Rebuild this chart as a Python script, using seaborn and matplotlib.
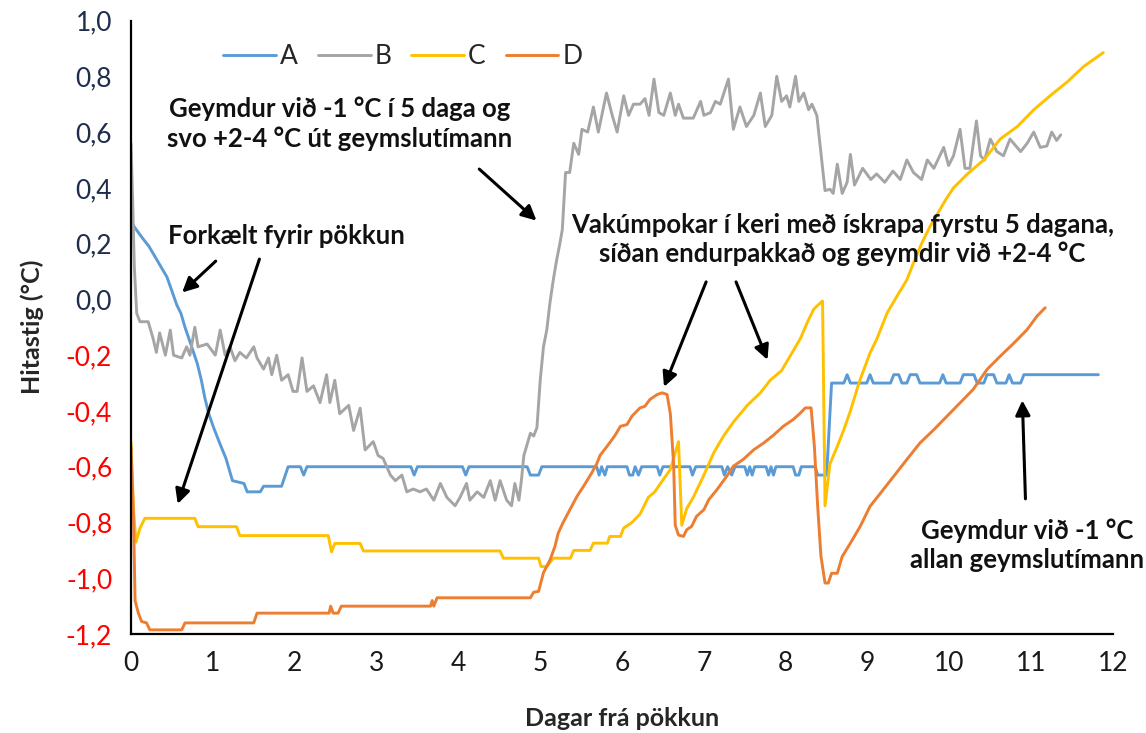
import pandas as pd
import matplotlib.pyplot as plt
import seaborn as sns

# Hitastig í vakúmpokum eftir pökkun (lesið af mynd)
A_day = [0.00, 0.04, 0.14, 0.22, 0.30, 0.36, 0.44, 0.50, 0.56, 0.61, 0.66, 0.73, 0.81, 0.86, 0.90,
         0.95, 1.01, 1.09, 1.16, 1.24, 1.38, 1.42, 1.58, 1.62, 1.84, 1.92,
         2.07, 2.11, 2.15, 3.42, 3.46, 3.50, 4.05, 4.09, 4.13, 4.84, 4.88, 4.98, 5.02,
         5.69, 5.72, 5.75, 5.79, 5.82, 6.06, 6.09, 6.13, 6.16, 6.20, 6.24, 6.43, 6.46, 6.50,
         6.83, 6.86, 6.90, 7.22, 7.25, 7.29, 7.34, 7.38, 7.50, 7.53, 7.56, 7.59, 7.62,
         7.76, 7.79, 7.82, 7.85, 7.88, 8.09, 8.12, 8.16, 8.19, 8.36, 8.39, 8.50, 8.56,
         8.71, 8.75, 8.79, 8.99, 9.03, 9.07, 9.28, 9.32, 9.38, 9.42, 9.48, 9.52, 9.60, 9.64,
         9.88, 9.92, 9.96, 10.13, 10.17, 10.30, 10.34, 10.42, 10.46, 10.54, 10.58,
         10.69, 10.73, 10.77, 10.87, 10.91, 11.82]
A_temp = [0.28, 0.26, 0.22, 0.19, 0.15, 0.12, 0.08, 0.03, -0.02, -0.05, -0.10, -0.16, -0.23, -0.29, -0.35,
          -0.41, -0.46, -0.52, -0.57, -0.65, -0.66, -0.69, -0.69, -0.67, -0.67, -0.60,
          -0.60, -0.63, -0.60, -0.60, -0.63, -0.60, -0.60, -0.63, -0.60, -0.60, -0.63, -0.63, -0.60,
          -0.60, -0.63, -0.60, -0.63, -0.60, -0.60, -0.63, -0.63, -0.60, -0.63, -0.60, -0.60, -0.63, -0.60,
          -0.60, -0.63, -0.60, -0.60, -0.63, -0.60, -0.63, -0.60, -0.60, -0.63, -0.60, -0.63, -0.60,
          -0.60, -0.63, -0.60, -0.63, -0.60, -0.60, -0.63, -0.63, -0.60, -0.60, -0.63, -0.63, -0.30,
          -0.30, -0.27, -0.30, -0.30, -0.27, -0.30, -0.30, -0.27, -0.27, -0.30, -0.30, -0.27, -0.27, -0.30,
          -0.30, -0.27, -0.30, -0.30, -0.27, -0.27, -0.30, -0.30, -0.27, -0.27, -0.30,
          -0.30, -0.27, -0.30, -0.30, -0.27, -0.27]

B_day = [0.00, 0.02, 0.04, 0.07, 0.11, 0.21, 0.27, 0.31, 0.35, 0.42, 0.48, 0.52, 0.62, 0.68, 0.72,
         0.78, 0.82, 0.93, 1.03, 1.09, 1.15, 1.21, 1.27, 1.33, 1.41, 1.50, 1.54, 1.62, 1.68, 1.72,
         1.78, 1.84, 1.92, 1.98, 2.03, 2.09, 2.15, 2.23, 2.31, 2.39, 2.43, 2.49, 2.55, 2.66, 2.72,
         2.80, 2.86, 2.96, 3.02, 3.08, 3.17, 3.23, 3.31, 3.37, 3.45, 3.53, 3.61, 3.70, 3.78, 3.86,
         3.96, 4.02, 4.10, 4.14, 4.23, 4.31, 4.39, 4.45, 4.51, 4.59, 4.65, 4.69, 4.74, 4.77, 4.80,
         4.88, 4.92, 4.96, 5.00, 5.04, 5.08, 5.12, 5.16, 5.20, 5.24, 5.27, 5.31, 5.36, 5.41, 5.47,
         5.51, 5.58, 5.65, 5.71, 5.81, 5.88, 5.94, 6.02, 6.08, 6.14, 6.22, 6.28, 6.33, 6.39, 6.45,
         6.51, 6.59, 6.65, 6.69, 6.75, 6.87, 6.96, 7.00, 7.08, 7.14, 7.20, 7.30, 7.36, 7.44, 7.52,
         7.61, 7.69, 7.75, 7.83, 7.89, 7.95, 8.01, 8.05, 8.12, 8.16, 8.22, 8.28, 8.32, 8.38, 8.48,
         8.54, 8.58, 8.63, 8.69, 8.75, 8.79, 8.84, 8.94, 9.04, 9.11, 9.21, 9.31, 9.40, 9.48, 9.56,
         9.66, 9.73, 9.81, 9.93, 9.99, 10.05, 10.13, 10.19, 10.25, 10.33, 10.38, 10.43, 10.50, 10.58,
         10.66, 10.74, 10.87, 10.95, 11.03, 11.11, 11.19, 11.25, 11.31, 11.36]
B_temp = [0.56, 0.36, 0.12, -0.05, -0.08, -0.08, -0.14, -0.19, -0.12, -0.20, -0.11, -0.20, -0.21, -0.17, -0.20,
          -0.10, -0.17, -0.16, -0.20, -0.11, -0.20, -0.17, -0.22, -0.19, -0.21, -0.17, -0.21, -0.25, -0.21, -0.27,
          -0.20, -0.29, -0.27, -0.33, -0.33, -0.21, -0.33, -0.31, -0.37, -0.27, -0.37, -0.29, -0.41, -0.38, -0.47,
          -0.39, -0.54, -0.51, -0.56, -0.57, -0.63, -0.65, -0.63, -0.69, -0.68, -0.69, -0.68, -0.72, -0.66, -0.71,
          -0.74, -0.71, -0.66, -0.72, -0.69, -0.71, -0.65, -0.72, -0.65, -0.72, -0.74, -0.66, -0.72, -0.65, -0.56,
          -0.48, -0.49, -0.46, -0.29, -0.17, -0.11, -0.01, 0.07, 0.14, 0.20, 0.25, 0.455, 0.455, 0.56, 0.52,
          0.61, 0.60, 0.69, 0.60, 0.74, 0.66, 0.60, 0.73, 0.66, 0.70, 0.70, 0.72, 0.66, 0.79, 0.67,
          0.66, 0.74, 0.66, 0.70, 0.65, 0.65, 0.71, 0.66, 0.67, 0.71, 0.70, 0.79, 0.61, 0.69, 0.62,
          0.66, 0.74, 0.62, 0.66, 0.80, 0.71, 0.73, 0.69, 0.80, 0.71, 0.74, 0.68, 0.70, 0.66, 0.39,
          0.395, 0.38, 0.485, 0.38, 0.42, 0.52, 0.41, 0.47, 0.43, 0.45, 0.42, 0.46, 0.43, 0.50, 0.455,
          0.43, 0.50, 0.47, 0.545, 0.48, 0.515, 0.61, 0.47, 0.47, 0.64, 0.515, 0.50, 0.575, 0.53,
          0.515, 0.575, 0.53, 0.56, 0.60, 0.545, 0.55, 0.60, 0.57, 0.59]

C_day = [0.00, 0.03, 0.06, 0.11, 0.17, 0.78, 0.82, 1.29, 1.33, 2.41, 2.45, 2.49, 2.80, 2.84, 4.51,
         4.55, 4.98, 5.01, 5.08, 5.16, 5.37, 5.41, 5.61, 5.65, 5.82, 5.85, 5.98, 6.02, 6.12, 6.22,
         6.32, 6.40, 6.47, 6.59, 6.65, 6.69, 6.73, 6.79, 6.87, 7.00, 7.12, 7.24, 7.36, 7.53, 7.69,
         7.81, 7.95, 8.06, 8.18, 8.26, 8.34, 8.38, 8.45, 8.48, 8.54, 8.63, 8.71, 8.79, 8.87, 8.91,
         9.03, 9.11, 9.24, 9.36, 9.48, 9.56, 9.66, 9.76, 9.86, 9.96, 10.05, 10.22, 10.42, 10.62,
         10.83, 11.03, 11.23, 11.44, 11.64, 11.88]
C_temp = [-0.51, -0.75, -0.87, -0.82, -0.785, -0.785, -0.815, -0.815, -0.847, -0.847, -0.905, -0.875, -0.875, -0.902, -0.902,
          -0.928, -0.928, -0.958, -0.958, -0.928, -0.928, -0.90, -0.90, -0.874, -0.874, -0.85, -0.85, -0.82, -0.80, -0.77,
          -0.71, -0.69, -0.66, -0.61, -0.55, -0.51, -0.81, -0.75, -0.71, -0.63, -0.55, -0.49, -0.44, -0.38, -0.335,
          -0.29, -0.255, -0.20, -0.14, -0.085, -0.036, -0.024, -0.006, -0.74, -0.59, -0.527, -0.467, -0.40, -0.323, -0.287,
          -0.192, -0.144, -0.048, 0.012, 0.07, 0.13, 0.20, 0.26, 0.31, 0.36, 0.40, 0.45, 0.50, 0.575,
          0.62, 0.68, 0.73, 0.78, 0.835, 0.885]

D_day = [0.00, 0.03, 0.05, 0.09, 0.13, 0.19, 0.23, 0.62, 0.66, 1.50, 1.54, 2.42, 2.44, 2.47, 2.53,
         2.57, 3.66, 3.68, 3.70, 3.74, 4.88, 4.92, 4.98, 5.04, 5.12, 5.18, 5.22, 5.28, 5.37, 5.45,
         5.53, 5.63, 5.69, 5.73, 5.86, 5.92, 5.98, 6.06, 6.12, 6.22, 6.28, 6.34, 6.43, 6.49, 6.55,
         6.59, 6.63, 6.65, 6.69, 6.75, 6.79, 6.85, 6.91, 7.00, 7.06, 7.16, 7.28, 7.36, 7.48, 7.61,
         7.73, 7.85, 7.97, 8.09, 8.17, 8.24, 8.31, 8.35, 8.39, 8.43, 8.48, 8.52, 8.56, 8.63, 8.69,
         8.79, 8.91, 9.03, 9.16, 9.32, 9.48, 9.64, 9.81, 9.97, 10.13, 10.29, 10.46, 10.62, 10.79,
         10.95, 11.07, 11.17]
D_temp = [-0.53, -0.77, -1.08, -1.125, -1.155, -1.16, -1.185, -1.185, -1.16, -1.16, -1.125, -1.125, -1.10, -1.125, -1.125,
          -1.10, -1.10, -1.08, -1.10, -1.07, -1.07, -1.05, -1.047, -0.98, -0.934, -0.886, -0.838, -0.80, -0.75, -0.706,
          -0.67, -0.622, -0.59, -0.56, -0.51, -0.485, -0.455, -0.449, -0.419, -0.389, -0.383, -0.359, -0.341, -0.335, -0.341,
          -0.41, -0.59, -0.81, -0.845, -0.85, -0.826, -0.814, -0.778, -0.754, -0.718, -0.682, -0.634, -0.598, -0.574, -0.539,
          -0.515, -0.487, -0.455, -0.431, -0.41, -0.389, -0.389, -0.527, -0.74, -0.92, -1.017, -1.017, -0.982, -0.982, -0.922,
          -0.874, -0.814, -0.742, -0.694, -0.634, -0.574, -0.515, -0.467, -0.419, -0.371, -0.323, -0.251, -0.204, -0.156,
          -0.108, -0.06, -0.03]

series_names = ['A', 'B', 'C', 'D']
series_colors = ['#5B9BD5', '#A5A5A5', '#FFC000', '#ED7D31']
y_ticks = [-1.2, -1.0, -0.8, -0.6, -0.4, -0.2, 0.0, 0.2, 0.4, 0.6, 0.8, 1.0]
x_ticks = list(range(0, 13))

# gögn í langt snið fyrir seaborn
frames = []
for name, d, t in zip(series_names, [A_day, B_day, C_day, D_day], [A_temp, B_temp, C_temp, D_temp]):
    frames.append(pd.DataFrame({'day': d, 'temp': t, 'series': name}))
df = pd.concat(frames, ignore_index=True)

sns.set_theme(style='white')
plt.rcParams['font.family'] = ['Lato', 'DejaVu Sans']

fig = plt.figure(figsize=(11.46, 7.33), dpi=100)
ax = fig.add_axes([0.1143, 0.135, 0.857, 0.837])

sns.lineplot(data=df, x='day', y='temp', hue='series', palette=series_colors,
             sort=False, estimator=None, linewidth=2.1, ax=ax)

ax.set_xlim(0, 12)
ax.set_ylim(-1.2, 1.0)
ax.set_xticks(x_ticks)
ax.set_xticklabels([str(v) for v in x_ticks], fontsize=19, color='#1a1a1a')
ax.set_yticks(y_ticks)
ax.set_yticklabels([f'{v:.1f}'.replace('.', ',') for v in y_ticks], fontsize=19)
for lbl, v in zip(ax.get_yticklabels(), y_ticks):
    lbl.set_color('#FF0000' if v < -0.1 else '#1F2D4D')

sns.despine(ax=ax)
for side in ['left', 'bottom']:
    ax.spines[side].set_color('black')
    ax.spines[side].set_linewidth(1.6)
ax.tick_params(axis='both', direction='inout', length=11, width=1.4, color='black', pad=7)
ax.tick_params(axis='y', pad=8)

ax.set_xlabel('Dagar frá pökkun', fontsize=18, fontweight='bold', labelpad=22)
ax.set_ylabel('Hitastig (°C)', fontsize=18, fontweight='bold', labelpad=16)

ax.legend(loc='upper left', bbox_to_anchor=(0.07, 1.0), ncol=4, frameon=False,
          fontsize=19, handlelength=2.0, columnspacing=0.75, handletextpad=0.15)

# skýringartextar og örvar
note_kw = dict(fontsize=18.5, fontweight='bold', color='#111111', ha='center', va='center',
               linespacing=1.25)
arrow_kw = dict(arrowstyle='-|>', color='black', lw=2.2, mutation_scale=22)

ax.text(2.55, 0.63, 'Geymdur við -1 °C í 5 daga og\nsvo +2-4 °C út geymslutímann', **note_kw)
ax.annotate('', xy=(4.98, 0.276), xytext=(4.23, 0.474), arrowprops=arrow_kw)

ax.text(1.9, 0.226, 'Forkælt fyrir pökkun', **note_kw)
ax.annotate('', xy=(0.60, 0.018), xytext=(1.06, 0.144), arrowprops=arrow_kw)
ax.annotate('', xy=(0.56, -0.743), xytext=(1.58, 0.154), arrowprops=arrow_kw)

ax.text(8.69, 0.215, 'Vakúmpokar í keri með ískrapa fyrstu 5 dagana,\nsíðan endurpakkað og geymdir við +2-4 °C',
        **note_kw)
ax.annotate('', xy=(6.50, -0.323), xytext=(7.04, 0.072), arrowprops=arrow_kw)
ax.annotate('', xy=(7.79, -0.226), xytext=(7.38, 0.072), arrowprops=arrow_kw)

ax.text(10.95, -0.88, 'Geymdur við -1 °C\nallan geymslutímann', **note_kw)
ax.annotate('', xy=(10.89, -0.352), xytext=(10.93, -0.725), arrowprops=arrow_kw)

fig.savefig('out.png', dpi=100)
